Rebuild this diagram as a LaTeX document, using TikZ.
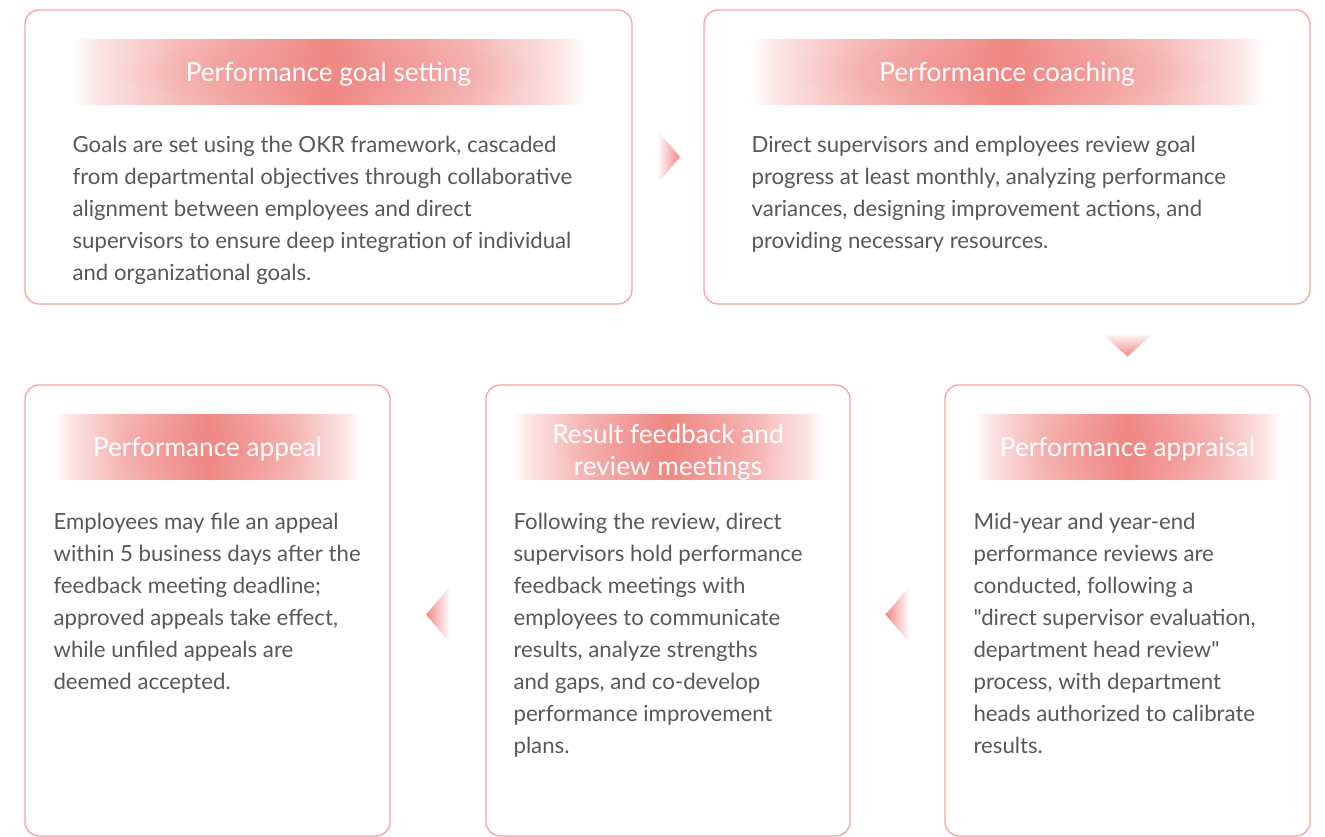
\documentclass[tikz,border=0pt]{standalone}
\usepackage{fontspec}
\setmainfont{Lato}[Ligatures=TeXReset]
\usetikzlibrary{calc,fadings,positioning}
\definecolor{Rim}{HTML}{F4A3A0}
\definecolor{Coral}{HTML}{F08884}
\definecolor{Blush}{HTML}{F5B7B5}
\definecolor{Ink}{HTML}{585858}
\pgfdeclarehorizontalshading{bandshade}{100bp}{color(0bp)=(white); color(25bp)=(white); color(28bp)=(Blush!40); color(36bp)=(Blush); color(50bp)=(Coral); color(64bp)=(Blush); color(72bp)=(Blush!40); color(75bp)=(white); color(100bp)=(white)}
\tikzfading[name=bandglow,inner color=transparent!35,outer color=transparent!100]

\begin{document}
\begin{tikzpicture}[x=1pt,y=-1pt,
    card/.style={draw=Rim,line width=1.3pt,rounded corners=14pt,fill=white,inner sep=0pt},
    band/.style={shading=bandshade},
    glow/.style={fill=Coral,path fading=bandglow,fill opacity=0.6},
    heading/.style={text=white,font=\fontsize{26.2}{32}\selectfont,align=center},
    body/.style={text=Ink,font=\fontsize{22.2}{32}\selectfont,align=left,anchor=north west,inner sep=0pt}]
  \useasboundingbox (0,0) rectangle (1325,837);

  % cards
  \node[card,minimum width=607pt,minimum height=294pt] (goal) at (328.5,157) {};
  \node[card,minimum width=606pt,minimum height=294pt] (coach) at (1007,157) {};
  \node[card,minimum width=365pt,minimum height=451pt] (appeal) at (207.5,610.5) {};
  \node[card,minimum width=364pt,minimum height=451pt] (feedback) at (668,610.5) {};
  \node[card,minimum width=365pt,minimum height=451pt] (appraisal) at (1127.5,610.5) {};

  % title bands
  \foreach \card/\inset in {goal/47,coach/47,appeal/29,feedback/28,appraisal/29}{
    \shade[band] ($(\card.north west)+(\inset,30)$) rectangle ($(\card.north east)+(-\inset,95)$);
    \fill[glow] ($(\card.north west)+(\inset+40,30)$) rectangle ($(\card.north east)+(-\inset-40,95)$);
  }
  \node[heading] (goal-title) at ($(goal.north)+(0,65)$) {Performance goal setting};
  \node[heading] (coach-title) at ($(coach.north)+(0,65)$) {Performance coaching};
  \node[heading] (appeal-title) at ($(appeal.north)+(0,65)$) {Performance appeal};
  \node[heading] (feedback-title) at ($(feedback.north)+(0,68)$) {Result feedback and\\review meetings};
  \node[heading] (appraisal-title) at ($(appraisal.north)+(0,65)$) {Performance appraisal};

  % texts
  \node[body] (goal-text) at ($(goal.north west)+(48,127)$) {Goals are set using the OKR framework, cascaded\\
    from departmental objectives through collaborative\\
    alignment between employees and direct\\
    supervisors to ensure deep integration of individual\\
    and organizational goals.};
  \node[body] (coach-text) at ($(coach.north west)+(48,127)$) {Direct supervisors and employees review goal\\
    progress at least monthly, analyzing performance\\
    variances, designing improvement actions, and\\
    providing necessary resources.};
  \node[body] (appeal-text) at ($(appeal.north west)+(29,129)$) {Employees may file an appeal\\
    within 5 business days after the\\
    feedback meeting deadline;\\
    approved appeals take effect,\\
    while unfiled appeals are\\
    deemed accepted.};
  \node[body] (feedback-text) at ($(feedback.north west)+(28,129)$) {Following the review, direct\\
    supervisors hold performance\\
    feedback meetings with\\
    employees to communicate\\
    results, analyze strengths\\
    and gaps, and co-develop\\
    performance improvement\\
    plans.};
  \node[body] (appraisal-text) at ($(appraisal.north west)+(29,129)$) {Mid-year and year-end\\
    performance reviews are\\
    conducted, following a\\
    "direct supervisor evaluation,\\
    department head review"\\
    process, with department\\
    heads authorized to calibrate\\
    results.};

  % arrows
  \coordinate (tip1) at ($(goal.east)!0.5!(coach.west)+(12,0)$);
  \coordinate (tip2) at ($(coach.south -| appraisal.north)!0.5!(appraisal.north)+(0,12)$);
  \coordinate (tip3) at ($(feedback.east)!0.5!(appraisal.west)+(-12,4)$);
  \coordinate (tip4) at ($(appeal.east)!0.5!(feedback.west)+(-12,4)$);
  \shade[left color=white,right color=Coral] (tip1) -- ++(-23,-27) -- ++(0,54) -- cycle;
  \shade[top color=white,bottom color=Coral] (tip2) -- ++(-27,-24) -- ++(54,0) -- cycle;
  \shade[left color=Coral,right color=white] (tip3) -- ++(24,-28) -- ++(0,56) -- cycle;
  \shade[left color=Coral,right color=white] (tip4) -- ++(24,-28) -- ++(0,56) -- cycle;
\end{tikzpicture}
\end{document}
